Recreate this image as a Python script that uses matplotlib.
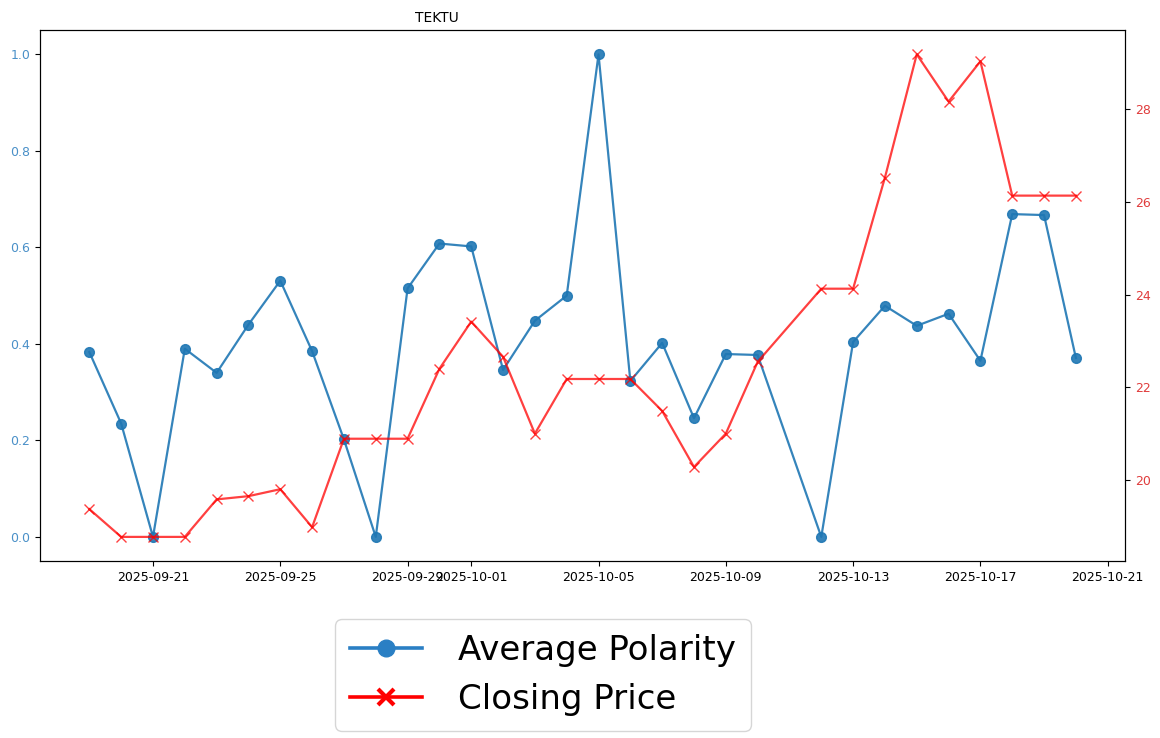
import numpy as np
import pandas as pd
import matplotlib
matplotlib.use("Agg")
import matplotlib.pyplot as plt
import matplotlib.dates as mdates
from matplotlib.lines import Line2D

## data
dates = ["2025-09-19", "2025-09-20", "2025-09-21", "2025-09-22", "2025-09-23",
         "2025-09-24", "2025-09-25", "2025-09-26", "2025-09-27", "2025-09-28",
         "2025-09-29", "2025-09-30", "2025-10-01", "2025-10-02", "2025-10-03",
         "2025-10-04", "2025-10-05", "2025-10-06", "2025-10-07", "2025-10-08",
         "2025-10-09", "2025-10-10", "2025-10-12", "2025-10-13", "2025-10-14",
         "2025-10-15", "2025-10-16", "2025-10-17", "2025-10-18", "2025-10-19",
         "2025-10-20"]
polarity = [0.383, 0.235, 0.0, 0.39, 0.34, 0.44, 0.531, 0.385, 0.202, 0.0,
            0.515, 0.608, 0.602, 0.346, 0.448, 0.5, 1.0, 0.323, 0.402, 0.246,
            0.379, 0.377, 0.0, 0.404, 0.479, 0.4375, 0.4625, 0.365, 0.669, 0.667,
            0.371]
closing = [19.37, 18.77, 18.77, 18.77, 19.58, 19.65, 19.8, 18.98, 20.89, 20.89,
           20.89, 22.4, 23.42, 22.66, 21.0, 22.18, 22.18, 22.18, 21.49, 20.28,
           21.0, 22.55, 24.13, 24.13, 26.53, 29.19, 28.17, 29.04, 26.14, 26.14,
           26.14]
title = "TEKTU"
labels = ["Average Polarity", "Closing Price"]

x = pd.to_datetime(dates)

fig = plt.figure(figsize=(11.6, 7.38), dpi=100)
ax1 = fig.add_axes([0.0345, 0.2398, 0.9355, 0.7192])
ax2 = ax1.twinx()

ax1.plot(x, polarity, color="#1f77b4", marker="o", markersize=7,
         linewidth=1.6, alpha=0.9)
ax2.plot(x, closing, color="red", marker="x", markersize=7,
         linewidth=1.6, alpha=0.75)

ax1.tick_params(axis="y", labelcolor="#4a90c8", labelsize=9)
ax2.tick_params(axis="y", labelcolor="#e03c3c", labelsize=9)
ax1.tick_params(axis="x", labelsize=9)
ax1.xaxis.set_major_locator(mdates.AutoDateLocator())
ax1.xaxis.set_major_formatter(mdates.DateFormatter("%Y-%m-%d"))
ax2.set_yticks([20, 22, 24, 26, 28])

ax1.set_title(title, x=0.366, fontsize=10)

# legend handles drawn bigger than the plot lines, like the reference
h1 = Line2D([], [], color="#2a7fc4", marker="o", markersize=12, linewidth=2.6)
h2 = Line2D([], [], color="red", marker="x", markersize=11, markeredgewidth=3,
            linewidth=2.6)
fig.legend(handles=[h1, h2], labels=labels, loc="center",
           bbox_to_anchor=(543 / 1160, 1 - 675 / 738),
           fontsize=24.5, handlelength=2.1, handletextpad=1.05,
           borderpad=0.45, labelspacing=0.45)

fig.savefig("out.png", dpi=100)
